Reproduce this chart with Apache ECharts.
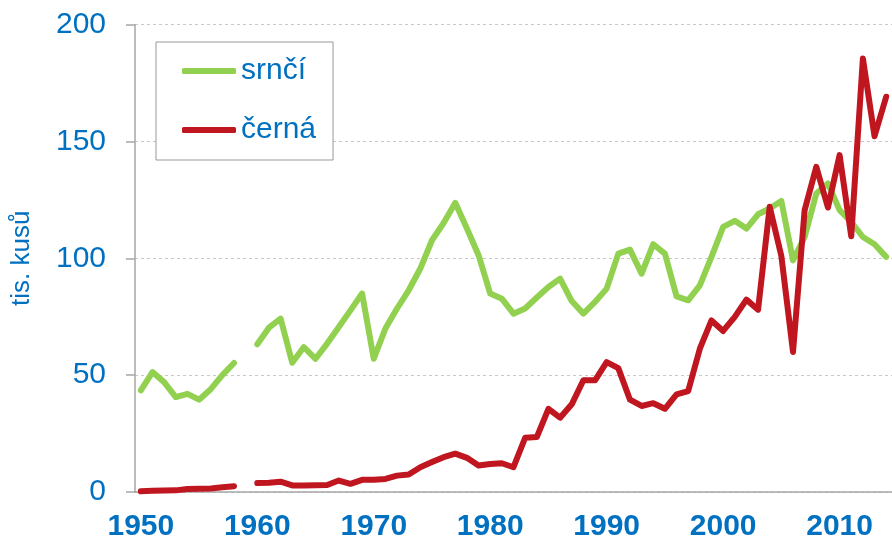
<!DOCTYPE html>
<html>
<head>
<meta charset="utf-8">
<script src="https://cdn.jsdelivr.net/npm/echarts@6/dist/echarts.min.js"></script>
<style>
    html, body { margin: 0; padding: 0; background: #fff; }
    #chart { width: 892px; height: 543px; }
</style>
</head>
<body>
<div id="chart"></div>
<script>
// years 1950 - 2014, 1959 missing
const years = []
for (let y = 1950; y <= 2014; y++) years.push(String(y))

const srnci = [
    43.5, 51.3, 47, 40.6, 42, 39.5, 44, 50, 55.2, null,
    63.2, 70.3, 74.2, 55.3, 62, 57, 63.5, 70.6, 77.7, 84.9,
    57, 69.9, 78.5, 86.3, 95.6, 107.7, 115.1, 123.7, 112.7, 101.3,
    84.9, 82.7, 76.3, 78.5, 83.2, 87.7, 91.3, 81.7, 76.3, 81.3,
    87, 102, 103.7, 93.4, 106, 102, 83.7, 82, 88.4, 100.6,
    113.4, 116, 112.7, 118.8, 121.3, 124.5, 99.1, 109.1, 127.7, 132,
    120.6, 115.5, 109.1, 106, 100.6
]
const cerna = [
    0.3, 0.5, 0.6, 0.7, 1.3, 1.4, 1.5, 2, 2.5, null,
    3.8, 4, 4.4, 2.8, 2.8, 2.9, 3, 4.9, 3.5, 5.2,
    5.2, 5.6, 7, 7.5, 10.6, 12.8, 14.9, 16.4, 14.6, 11.3,
    12, 12.3, 10.6, 23.2, 23.5, 35.6, 31.8, 37.5, 47.8, 47.8,
    55.6, 53, 39.5, 36.8, 38, 35.6, 41.8, 43.2, 61.3, 73.4,
    68.9, 74.9, 82.3, 78, 122, 100.9, 59.9, 120.6, 139.1, 121.7,
    144.1, 109.4, 185.5, 152.2, 169.1
]
const seriesNames = ['srnčí', 'černá']
const seriesColors = ['#92d050', '#c0161f']
const blue = '#0070c0'

const chart = echarts.init(document.getElementById('chart'))
chart.setOption({
    animation: false,
    textStyle: { fontFamily: 'Liberation Sans, Arial, sans-serif' },
    grid: { left: 135, top: 24.5, width: 760, bottom: 51 },
    legend: {
        orient: 'vertical',
        left: 156,
        top: 42,
        padding: [14, 17, 15, 26],
        itemGap: 29,
        itemWidth: 54,
        itemHeight: 6,
        icon: 'roundRect',
        borderColor: '#999',
        borderWidth: 1,
        backgroundColor: '#fff',
        textStyle: { color: blue, fontSize: 30, lineHeight: 30 },
        data: seriesNames
    },
    xAxis: {
        type: 'category',
        data: years,
        boundaryGap: true,
        axisLine: { lineStyle: { color: '#a6a6a6', width: 1.5 } },
        axisTick: { interval: 4, length: 9, lineStyle: { color: '#a6a6a6', width: 1.5 } },
        axisLabel: {
            interval: 9,
            color: blue,
            fontSize: 30,
            fontWeight: 'bold',
            margin: 20
        },
        splitLine: { show: false }
    },
    yAxis: {
        type: 'value',
        min: 0,
        max: 200,
        interval: 50,
        name: 'tis. kusů',
        nameLocation: 'middle',
        nameRotate: 90,
        nameGap: 100,
        nameTextStyle: { color: blue, fontSize: 26 },
        axisLine: { show: true, lineStyle: { color: '#a6a6a6', width: 1.5 } },
        axisTick: { show: true, length: 9, lineStyle: { color: '#a6a6a6', width: 1.5 } },
        axisLabel: { color: blue, fontSize: 30, margin: 29 },
        splitLine: { lineStyle: { color: '#c8c8c8', type: [3, 3], width: 1 } }
    },
    series: [
        {
            name: seriesNames[0],
            type: 'line',
            data: srnci,
            symbol: 'none',
            color: seriesColors[0],
            lineStyle: { width: 6, color: seriesColors[0], cap: 'round', join: 'round' }
        },
        {
            name: seriesNames[1],
            type: 'line',
            data: cerna,
            symbol: 'none',
            color: seriesColors[1],
            lineStyle: { width: 6, color: seriesColors[1], cap: 'round', join: 'round' }
        }
    ]
})
</script>
</body>
</html>
